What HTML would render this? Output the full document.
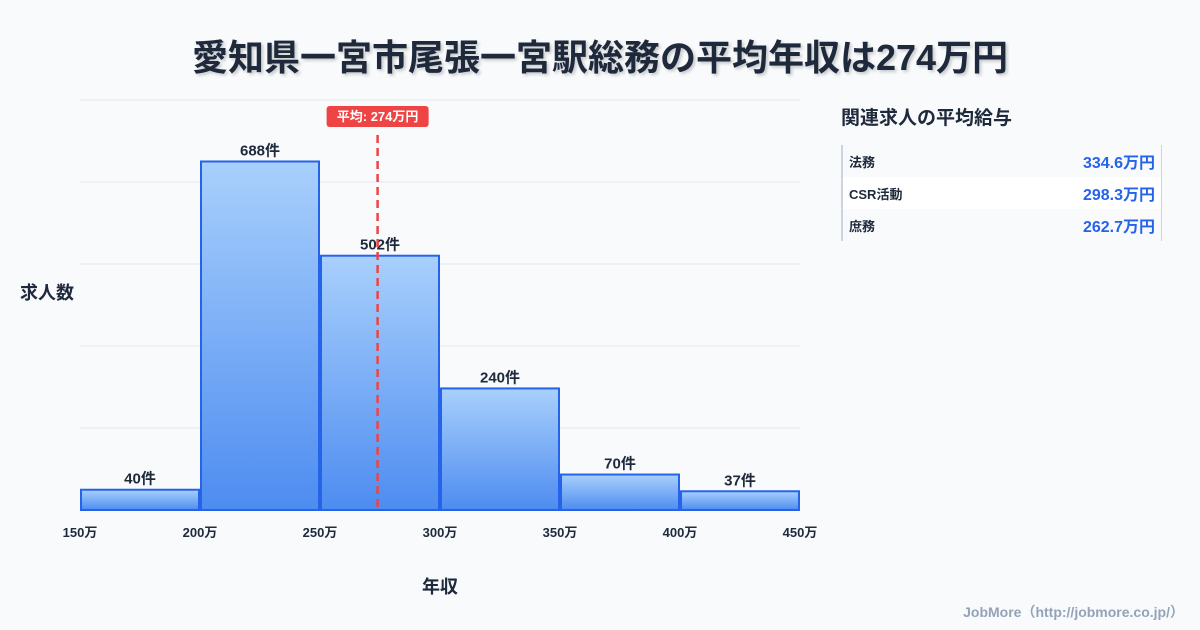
<!DOCTYPE html>
<html><head><meta charset="utf-8">
<style>
body{margin:0;width:1200px;height:630px;background:#f8fafc;font-family:"Liberation Sans","Noto Sans CJK JP",sans-serif;overflow:hidden;position:relative}
.title{position:absolute;left:0;width:1200px;top:29px;text-align:center;font-size:36px;font-weight:bold;color:#1e293b;text-shadow:2px 2px 3px rgba(0,0,0,0.2)}
.side-title{position:absolute;left:841px;top:103px;font-size:19px;font-weight:bold;color:#1e293b}
.table{position:absolute;left:841px;top:145px;width:318px;border-left:2px solid #cbd5e1;border-right:1px solid #cbd5e1}
.row{height:32px;display:flex;justify-content:space-between;align-items:center;padding:0 6px;font-size:13px;font-weight:bold;color:#1e293b}
.row .v{color:#2563eb;font-size:16px}
.row.alt{background:#fff}
.foot{position:absolute;right:16px;top:602px;font-size:14px;font-weight:bold;color:#94a3b8}
</style></head><body>
<div class="title">愛知県一宮市尾張一宮駅総務の平均年収は274万円</div>
<svg id="chart" width="820" height="630" style="position:absolute;left:0;top:0"></svg>
<div class="side-title">関連求人の平均給与</div>
<div class="table">
<div class="row"><span>法務</span><span class="v">334.6万円</span></div>
<div class="row alt"><span>CSR活動</span><span class="v">298.3万円</span></div>
<div class="row"><span>庶務</span><span class="v">262.7万円</span></div>
</div>
<div class="foot">JobMore（http://jobmore.co.jp/）</div>
<script>
const binStarts=[150,200,250,300,350,400];
const binWidth=50;
const counts=[40,688,502,240,70,37];
const xTicks=[150,200,250,300,350,400,450];
const meanValue=274;
const NS="http://www.w3.org/2000/svg";
const svg=document.getElementById('chart');
const L=80,R=800,T=100,B=510;
const xMin=150,xMax=450;
const yMax=Math.max(...counts)/0.85;
const X=v=>L+(v-xMin)/(xMax-xMin)*(R-L);
const Y=v=>B-v/yMax*(B-T);
function mk(tag,attrs,parent){const e=document.createElementNS(NS,tag);for(const k in attrs)e.setAttribute(k,attrs[k]);(parent||svg).appendChild(e);return e;}
const defs=mk('defs',{});
const g=mk('linearGradient',{id:'bg',x1:0,y1:0,x2:0,y2:1},defs);
mk('stop',{offset:'0','stop-color':'#a9d0fc'},g);
mk('stop',{offset:'1','stop-color':'#4d8cf0'},g);
for(let i=0;i<=5;i++){const y=B-i*(B-T)/5;
const gl=mk('line',{x1:L,x2:R,y1:y,y2:y,stroke:'#e2e8f0','stroke-width':1});

}
counts.forEach((c,i)=>{
const x0=X(binStarts[i])+1,x1=X(binStarts[i]+binWidth)-1,y=Y(c);
const r=mk('rect',{x:x0,y:y,width:x1-x0,height:B-y,fill:'url(#bg)',stroke:'#2563eb','stroke-width':2});


const t=mk('text',{x:(x0+x1)/2,y:y-6,'text-anchor':'middle','font-size':15,'font-weight':'bold',fill:'#1e293b'});
t.textContent=c+'件';


});
xTicks.forEach(v=>{
const t=mk('text',{x:X(v),y:537,'text-anchor':'middle','font-size':13,'font-weight':'bold',fill:'#1e293b'});
t.textContent=v+'万';


});
const mx=X(meanValue);
const ml=mk('line',{x1:mx,x2:mx,y1:135,y2:B,stroke:'#ef4444','stroke-width':2.5,'stroke-dasharray':'8,5'});


const badge=mk('rect',{x:mx-51,y:106,width:102,height:21,rx:3,fill:'#ef4444'});


const bt=mk('text',{x:mx,y:121,'text-anchor':'middle','font-size':13,'font-weight':'bold',fill:'#fff'});
bt.textContent='平均: '+meanValue+'万円';


const yt=mk('text',{x:20,y:299,'font-size':18,'font-weight':'bold',fill:'#1e293b'});
yt.textContent='求人数';


const xt=mk('text',{x:440,y:593,'text-anchor':'middle','font-size':18,'font-weight':'bold',fill:'#1e293b'});
xt.textContent='年収';


</script>
</body></html>
